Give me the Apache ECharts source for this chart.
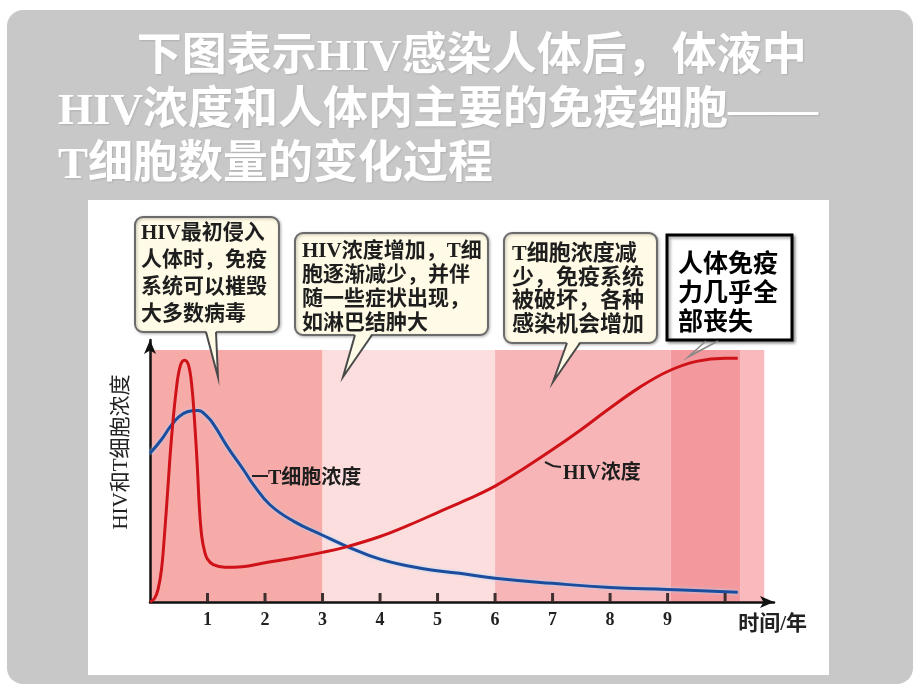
<!DOCTYPE html>
<html><head><meta charset="utf-8">
<script src="https://cdn.jsdelivr.net/npm/echarts@6/dist/echarts.min.js"></script>
<style>html,body{margin:0;padding:0;background:#fff}#c{width:920px;height:690px}</style>
</head><body><div id="c"></div>
<script>
// ---- data ----
const hivTime  = [0,0.08,0.14,0.2,0.25,0.31,0.37,0.46,0.53,0.6,0.67,0.73,0.78,0.82,0.86,0.9,0.95,1.0,1.1,1.3,1.6,2.0,2.5,3.0,3.4,4.0,4.5,5.0,5.5,6.0,6.5,7.0,7.5,8.0,8.5,9.0,9.5,10.0,10.22];
const hivValue = [0,1.5,5,13,26,45,64,85,94,96,94,85,70,55,37,26,20,17,14.8,13.8,14,15.6,17.5,19.7,21.8,26,30.5,35.5,40.5,46,53,60.5,68.5,77,85,91.5,95.5,96.8,96.8];
const tTime  = [0,0.2,0.35,0.5,0.65,0.83,1.0,1.12,1.35,1.64,1.8,2.09,2.5,3.0,3.4,4.0,4.7,5.38,6.0,7.0,8.0,9.0,10.22];
const tValue = [59,64.5,69.5,73.5,75.5,76,73.5,70,61.5,52,46.5,38.5,32,26.5,22.3,17,13.4,11.4,9.4,7.4,5.8,5.0,3.9];
const tickValues  = [1,2,3,4,5,6,7,8,9,10];
const tickLabels  = ['1','2','3','4','5','6','7','8','9'];
const bandStart  = [0,3,6,9.05,10.26];
const bandEnd    = [3,6,9.05,10.26,10.68];
const bandColor  = ['#f6aba9','#fcdede','#f7b5b7','#f3999d','#f8babd'];
const titleText = '\u3000   下图表示HIV感染人体后，体液中\nHIV浓度和人体内主要的免疫细胞——\nT细胞数量的变化过程';
const yName = 'HIV和T细胞浓度';
const xName = '时间/年';
const note1 = 'HIV最初侵入\n人体时，免疫\n系统可以摧毁\n大多数病毒';
const note2 = 'HIV浓度增加，T细\n胞逐渐减少，并伴\n随一些症状出现，\n如淋巴结肿大';
const note3 = 'T细胞浓度减\n少，免疫系统\n被破坏，各种\n感染机会增加';
const note4 = '人体免疫\n力几乎全\n部丧失';
const tLabel = 'T细胞浓度';
const hLabel = 'HIV浓度';

const zip = (a, b) => a.map((v, i) => [v, b[i]]);
const FONT = "'Liberation Serif','Noto Sans CJK SC',serif";
const SANS = "'Noto Sans CJK SC',sans-serif";
const cream = '#fffbe6';

function callout(x, y, w, h, text, tx, ty, fs, lh, base1, base2, tip) {
  return [
    { type: 'rect', z: 50, shape: { x, y, width: w, height: h, r: 8 },
      style: { fill: cream, stroke: '#6b6b6b', lineWidth: 2, shadowColor: 'rgba(0,0,0,0.25)', shadowBlur: 3, shadowOffsetX: 1, shadowOffsetY: 1 } },
    { type: 'polygon', z: 51, shape: { points: [[base1, y + h - 2], tip, [base2, y + h - 2]] },
      style: { fill: cream, stroke: null } },
    { type: 'polyline', z: 52, shape: { points: [[base1, y + h], tip, [base2, y + h]] },
      style: { stroke: '#4a4a4a', lineWidth: 2, fill: null } },
    { type: 'text', z: 53, x: tx, y: ty,
      style: { text, font: `bold ${fs}px ${FONT}`, fill: '#1e1e1e', lineHeight: lh, textVerticalAlign: 'top' } }
  ];
}

const chart = echarts.init(document.getElementById('c'));
const option = {
  backgroundColor: '#ffffff',
  animation: false,
  title: {
    text: titleText, left: 53, top: 26,
    textStyle: { color: '#ffffff', fontSize: 45, fontWeight: 'bold', fontFamily: FONT, lineHeight: 54,
      textShadowColor: 'rgba(0,0,0,0.12)', textShadowBlur: 2, textShadowOffsetX: 1, textShadowOffsetY: 1 }
  },
  grid: { left: 150, top: 340, width: 624, height: 262 },
  xAxis: {
    type: 'value', min: 0, max: 10.85, interval: 1, z: 3,
    name: xName, nameLocation: 'end', nameGap: 33,
    nameTextStyle: { align: 'right', verticalAlign: 'top', padding: [12, 0, 0, 0], fontSize: 21, fontWeight: 'bold', fontFamily: FONT, color: '#222' },
    axisLine: { show: true, onZero: false, symbol: ['none', 'arrow'], symbolSize: [9, 14], lineStyle: { color: '#111', width: 2.5 } },
    axisTick: { show: false },
    axisLabel: { show: true, margin: 9, fontSize: 18, fontWeight: 'bold', fontFamily: FONT, color: '#222',
      showMinLabel: false, showMaxLabel: false,
      formatter: v => (Number.isInteger(v) && v >= 1 && v <= tickLabels.length) ? tickLabels[v - 1] : '' },
    splitLine: { show: false }
  },
  yAxis: {
    type: 'value', min: 0, max: 104, z: 3,
    name: yName, nameLocation: 'middle', nameRotate: 90, nameGap: 18,
    nameTextStyle: { fontSize: 21, fontFamily: FONT, color: '#222', padding: [0, 0, 0, 38] },
    axisLine: { show: true, symbol: ['none', 'arrow'], symbolSize: [9, 14], lineStyle: { color: '#111', width: 2.5 } },
    axisTick: { show: false }, axisLabel: { show: false }, splitLine: { show: false }
  },
  series: [
    { type: 'line', name: 'bands', data: [], z: 1, silent: true,
      markArea: { silent: true,
        data: bandStart.map((s, i) => [
          { xAxis: s, yAxis: 0, itemStyle: { color: bandColor[i] } },
          { xAxis: bandEnd[i], yAxis: 100 }
        ]) } },
    { type: 'scatter', name: 'ticks', data: tickValues.map(v => [v, 0]), z: 6, silent: true, clip: false,
      symbol: 'rect', symbolSize: [3, 9], symbolOffset: [0, -4.5],
      itemStyle: { color: '#3e3030', opacity: 1 } },
    { type: 'line', name: 'T细胞浓度', data: zip(tTime, tValue), smooth: 0.45, showSymbol: false, z: 4,
      lineStyle: { color: '#1c4c9c', width: 3, shadowColor: 'rgba(170,215,255,1)', shadowBlur: 3 } },
    { type: 'line', name: 'HIV浓度', data: zip(hivTime, hivValue), smooth: 0.4, showSymbol: false, z: 5,
      lineStyle: { color: '#cf1118', width: 3 } }
  ],
  graphic: [
    { type: 'rect', z: -20, shape: { x: 7, y: 10, width: 906, height: 674, r: 16 }, style: { fill: '#c8c8c8' } },
    { type: 'rect', z: -19, shape: { x: 88, y: 200, width: 741, height: 475 }, style: { fill: '#ffffff' } },
    ...callout(135, 217, 144, 115, note1, 141, 220, 21, 27, 206, 216, [218, 377]),
    ...callout(295, 233, 193, 102, note2, 302, 240, 21, 24, 355, 372, [343, 377]),
    ...callout(504, 233, 153, 110, note3, 512, 243, 22, 23.5, 567, 580, [553, 382]),
    { type: 'rect', z: 50, shape: { x: 667, y: 235, width: 125, height: 105 },
      style: { fill: '#ffffff', stroke: '#000', lineWidth: 3, shadowColor: 'rgba(0,0,0,0.35)', shadowBlur: 3, shadowOffsetX: 2, shadowOffsetY: 2 } },
    { type: 'text', z: 53, x: 678, y: 247.5,
      style: { text: note4, font: `bold 25px ${SANS}`, fill: '#000', lineHeight: 29, textVerticalAlign: 'top' } },
    { type: 'polyline', z: 52, shape: { points: [[706, 341], [688, 357], [718, 341]] },
      style: { stroke: '#888', lineWidth: 1.5, fill: null } },
    { type: 'line', z: 20, shape: { x1: 252, y1: 476, x2: 268, y2: 476 }, style: { stroke: '#222', lineWidth: 2 } },
    { type: 'text', z: 20, x: 268, y: 479,
      style: { text: tLabel, font: `bold 20px ${FONT}`, fill: '#1e1e1e', textVerticalAlign: 'middle' } },
    { type: 'polyline', z: 20, shape: { points: [[545, 462], [553, 466], [561, 467]] }, style: { stroke: '#222', lineWidth: 2, fill: null } },
    { type: 'text', z: 20, x: 563, y: 474,
      style: { text: hLabel, font: `bold 20px ${FONT}`, fill: '#1e1e1e', textVerticalAlign: 'middle' } }
  ]
};
chart.setOption(option);
</script></body></html>
